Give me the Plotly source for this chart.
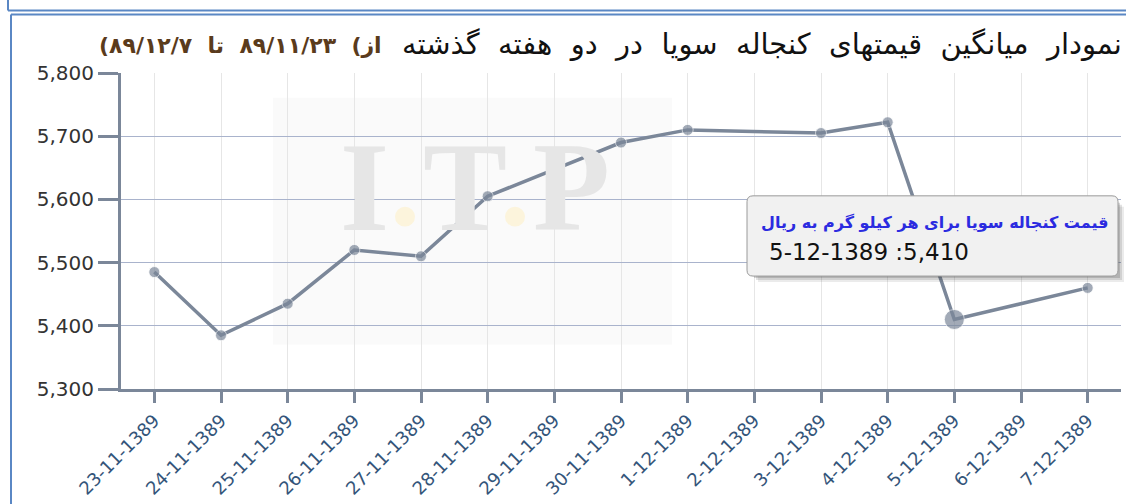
import plotly.graph_objects as go

# ---------------- data ----------------
categories = ["23-11-1389", "24-11-1389", "25-11-1389", "26-11-1389", "27-11-1389",
              "28-11-1389", "29-11-1389", "30-11-1389", "1-12-1389", "2-12-1389",
              "3-12-1389", "4-12-1389", "5-12-1389", "6-12-1389", "7-12-1389"]
prices = [5485, 5385, 5435, 5520, 5510, 5605, None, 5690, 5710, None,
          5705, 5722, 5410, None, 5460]
y_ticks = [5300, 5400, 5500, 5600, 5700, 5800]
highlight = "5-12-1389"

NB = "\u00a0"
title_words = ["نمودار", "میانگین", "قیمتهای", "کنجاله", "سویا", "در", "دو", "هفته", "گذشته"]
title_main = (NB * 2).join(title_words)
LRM = "\u200e"
title_range = LRM.join(["(", "۸۹/۱۲/۷", NB * 2, "تا", NB * 2, "۸۹/۱۱/۲۳", NB * 2, "(از"])
tip_title = "قیمت کنجاله سویا برای هر کیلو گرم به ریال"
hl_value = prices[categories.index(highlight)]
tip_value = f"{highlight} :{hl_value:,}"

# ---------------- geometry helpers (pixel -> paper) ----------------
W, H = 1126, 504
L, R, T, B = 121, 1121, 73, 392


def px(x):
    return (x - L) / (R - L)


def py(y):
    return (B - y) / (B - T)


LINE = "#7b8799"
fig = go.Figure()

fig.add_trace(go.Scatter(
    x=categories, y=prices, mode="lines+markers", connectgaps=True,
    line=dict(color=LINE, width=3.5),
    marker=dict(color=LINE, size=[20 if c == highlight else 11 for c in categories],
                line=dict(color="rgba(255,255,255,0.8)", width=1)),
    hoverinfo="skip", showlegend=False,
))

shapes = []
# faint watermark background
shapes.append(dict(type="rect", xref="paper", yref="paper", layer="below",
                   x0=px(273), x1=px(672), y0=py(347), y1=py(98),
                   fillcolor="rgb(250,250,250)", line=dict(width=0)))
# watermark dots
for cx in (405, 515):
    shapes.append(dict(type="circle", xref="paper", yref="paper", layer="below",
                       x0=px(cx - 10), x1=px(cx + 10), y0=py(228), y1=py(208),
                       fillcolor="#fcf4dc", line=dict(width=0)))
# page frame (blue)
FR = "#5a87c4"
shapes.append(dict(type="line", xref="paper", yref="paper",
                   x0=px(8), x1=px(1130), y0=py(10), y1=py(10), line=dict(color=FR, width=2)))
shapes.append(dict(type="line", xref="paper", yref="paper",
                   x0=px(8), x1=px(8), y0=py(-5), y1=py(10), line=dict(color=FR, width=2)))
shapes.append(dict(type="line", xref="paper", yref="paper",
                   x0=px(11), x1=px(1130), y0=py(14), y1=py(14), line=dict(color=FR, width=2)))
shapes.append(dict(type="line", xref="paper", yref="paper",
                   x0=px(11), x1=px(11), y0=py(14), y1=py(510), line=dict(color=FR, width=2)))
# tooltip shadow + box
for off, op in ((6, 0.10), (4, 0.15), (2, 0.2)):
    shapes.append(dict(type="rect", xref="paper", yref="paper",
                       x0=px(752 + off), x1=px(1118 + off), y0=py(278 + off), y1=py(202 + off),
                       fillcolor=f"rgba(60,60,60,{op})", line=dict(width=0)))
x0b, x1b, y0b, y1b, r = 747, 1118, 197, 278, 6
path = (f"M {px(x0b + r)} {py(y0b)} L {px(x1b - r)} {py(y0b)} "
        f"Q {px(x1b)} {py(y0b)} {px(x1b)} {py(y0b + r)} "
        f"L {px(x1b)} {py(y1b - r)} Q {px(x1b)} {py(y1b)} {px(x1b - r)} {py(y1b)} "
        f"L {px(x0b + r)} {py(y1b)} Q {px(x0b)} {py(y1b)} {px(x0b)} {py(y1b - r)} "
        f"L {px(x0b)} {py(y0b + r)} Q {px(x0b)} {py(y0b)} {px(x0b + r)} {py(y0b)} Z")
shapes.append(dict(type="path", xref="paper", yref="paper", path=path,
                   fillcolor="#f1f1f1", line=dict(color="#9a9a9a", width=1)))

annotations = []
# watermark letters
for letter, cx in (("I", 364), ("T", 465), ("P", 571)):
    annotations.append(dict(text=letter, xref="paper", yref="paper", x=px(cx), y=py(189),
                            xanchor="center", yanchor="middle", showarrow=False,
                            font=dict(family="Liberation Serif", size=126, color="#e6e6e6",
                                      weight="bold")))
# title
annotations.append(dict(text=title_main, xref="paper", yref="paper", x=px(1124), y=py(44),
                        xanchor="right", yanchor="middle", showarrow=False,
                        font=dict(family="DejaVu Sans", size=29, color="#111111")))
annotations.append(dict(text=title_range, xref="paper", yref="paper", x=px(384), y=py(45),
                        xanchor="right", yanchor="middle", showarrow=False,
                        font=dict(family="DejaVu Sans", size=22, color="#5a3b1c", weight="bold")))
# tooltip text
annotations.append(dict(text=tip_title, xref="paper", yref="paper", x=px(1110), y=py(224),
                        xanchor="right", yanchor="middle", showarrow=False,
                        font=dict(family="DejaVu Sans", size=16, color="#2b2be0", weight="bold")))
annotations.append(dict(text=tip_value, xref="paper", yref="paper", x=px(767), y=py(254),
                        xanchor="left", yanchor="middle", showarrow=False,
                        font=dict(family="DejaVu Sans", size=23, color="#111111")))

fig.update_layout(
    width=W, height=H,
    margin=dict(l=L, r=W - R, t=T, b=H - B),
    paper_bgcolor="white", plot_bgcolor="white",
    shapes=shapes, annotations=annotations,
    hovermode=False,
    xaxis=dict(type="category", categoryorder="array", categoryarray=categories,
               range=[-0.5, len(categories) - 0.5],
               showline=True, linecolor=LINE, linewidth=3,
               ticks="outside", ticklen=11, tickwidth=3, tickcolor=LINE,
               tickangle=-45, tickfont=dict(family="DejaVu Sans", size=18, color="#34557a"),
               showgrid=True, gridcolor="#e6e6e6", gridwidth=1, zeroline=False),
    yaxis=dict(range=[5300, 5800], tickvals=y_ticks, tickformat=",d",
               showline=True, linecolor=LINE, linewidth=3,
               ticks="outside", ticklen=20, tickwidth=3, tickcolor=LINE,
               tickfont=dict(family="DejaVu Sans", size=20, color="#333333"),
               showgrid=True, gridcolor="#a9b3cc", gridwidth=1, zeroline=False),
)

fig.write_html("out.html", config={"displayModeBar": False},
               post_script="document.body.style.margin='0';document.body.style.overflow='hidden';")
